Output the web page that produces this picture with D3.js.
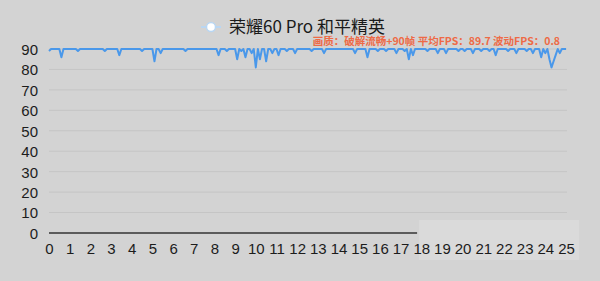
<!DOCTYPE html>
<html>
<head>
<meta charset="utf-8">
<script src="https://d3js.org/d3.v7.min.js"></script>
<style>
  body { margin: 0; background: #d3d3d3; }
  svg { display: block; }
  .tick text { font-family: "Liberation Sans", Arial, sans-serif; font-size: 15px; fill: #1c1c1c; }
</style>
</head>
<body>
<svg id="chart" width="600" height="281"></svg>
<script>
// FPS samples, one every 0.1 minute (0 .. 25)
var fps = [
  89,90,90,90,90,90,86,90,90,90,
  90,90,90,90,89,90,90,90,90,90,
  90,90,90,90,90,90,90,89,90,90,
  90,90,90,90,87,90,90,90,90,90,
  90,90,90,90,90,89,90,90,90,90,
  90,84,90,90,88,90,90,90,90,90,
  90,90,90,90,90,90,89,90,90,90,
  90,90,90,90,90,90,90,90,90,90,
  90,90,87,90,90,90,89,90,90,90,
  90,85,90,89,90,86,90,90,88,90,
  81,90,85,90,90,84,90,90,88,90,
  90,87,90,90,90,89,90,90,90,88,
  90,90,90,90,90,90,90,89,90,90,
  90,90,90,88,90,90,90,90,90,90,
  90,90,90,90,90,90,90,90,88,90,
  90,90,90,90,86,90,90,90,90,89,
  90,90,90,89,90,90,90,90,88,90,
  90,90,89,90,85,90,87,90,90,90,
  90,90,90,89,90,90,90,90,88,90,
  90,90,88,90,90,90,90,90,89,90,
  90,89,90,90,90,88,90,90,90,89,
  90,90,90,89,90,90,87,90,90,90,
  90,90,89,90,90,90,88,90,90,90,
  90,89,90,90,88,90,90,90,86,90,
  88,90,85,81,84,87,90,88,90,90,
  90
];
var yTicks = [0, 10, 20, 30, 40, 50, 60, 70, 80, 90];
var xTicks = d3.range(0, 26);
var title = "荣耀60 Pro 和平精英";
var note = "画质：破解流畅+90帧  平均FPS：89.7  波动FPS：0.8";

var svg = d3.select("#chart");

var x = d3.scaleLinear().domain([0, 25]).range([49, 566]);
var y = d3.scaleLinear().domain([0, 90]).range([233, 49]);

// washed-out patch at the bottom right of the screenshot
svg.append("rect")
  .attr("x", x(17.9)).attr("y", 220).attr("width", 160).attr("height", 40)
  .attr("fill", "#dadada");

// grid
svg.append("g")
  .selectAll("line")
  .data(yTicks.filter(function(d) { return d > 0; }))
  .enter().append("line")
    .attr("x1", x(0)).attr("x2", x(25) + 1)
    .attr("y1", function(d) { return y(d); })
    .attr("y2", function(d) { return y(d); })
    .attr("stroke", "#c5c5c5")
    .attr("stroke-width", 1);

// y axis labels
var yAxis = svg.append("g")
  .attr("transform", "translate(" + (x(0) - 3) + ",0)")
  .call(d3.axisLeft(y).tickValues(yTicks).tickSize(0).tickPadding(8));
yAxis.select(".domain").remove();
yAxis.selectAll("text").attr("dy", "0.36em");

// x axis
var xAxis = svg.append("g")
  .attr("transform", "translate(0," + y(0) + ")")
  .call(d3.axisBottom(x).tickValues(xTicks).tickSize(0).tickPadding(10));
xAxis.select(".domain").remove();

svg.append("line")
  .attr("x1", x(0)).attr("x2", x(17.8))
  .attr("y1", y(0)).attr("y2", y(0))
  .attr("stroke", "#333").attr("stroke-width", 1.5);

// fps line
var line = d3.line()
  .x(function(d, i) { return x(i / 10); })
  .y(function(d) { return y(d); });

svg.append("path")
  .datum(fps)
  .attr("fill", "none")
  .attr("stroke", "#4a98ea")
  .attr("stroke-width", 2)
  .attr("stroke-linejoin", "round")
  .attr("d", line);

// legend / title
var lg = svg.append("g");
lg.append("line")
  .attr("x1", 201).attr("x2", 221).attr("y1", 27).attr("y2", 27)
  .attr("stroke", "#b9d6f2").attr("stroke-width", 2);
lg.append("circle")
  .attr("cx", 211).attr("cy", 27).attr("r", 4.5)
  .attr("fill", "#fff").attr("stroke", "#b9d6f2").attr("stroke-width", 1.5);
lg.append("text")
  .attr("x", 229).attr("y", 33)
  .attr("font-family", "'Noto Sans CJK SC', sans-serif")
  .attr("font-size", 17)
  .attr("fill", "#1a1a1a")
  .text(title);

svg.append("text")
  .attr("x", 560).attr("y", 45)
  .attr("text-anchor", "end")
  .attr("font-family", "'Noto Sans CJK SC', sans-serif")
  .attr("font-size", 10.5)
  .attr("font-weight", "bold")
  .attr("fill", "#ee6a46")
  .text(note);
</script>
</body>
</html>
